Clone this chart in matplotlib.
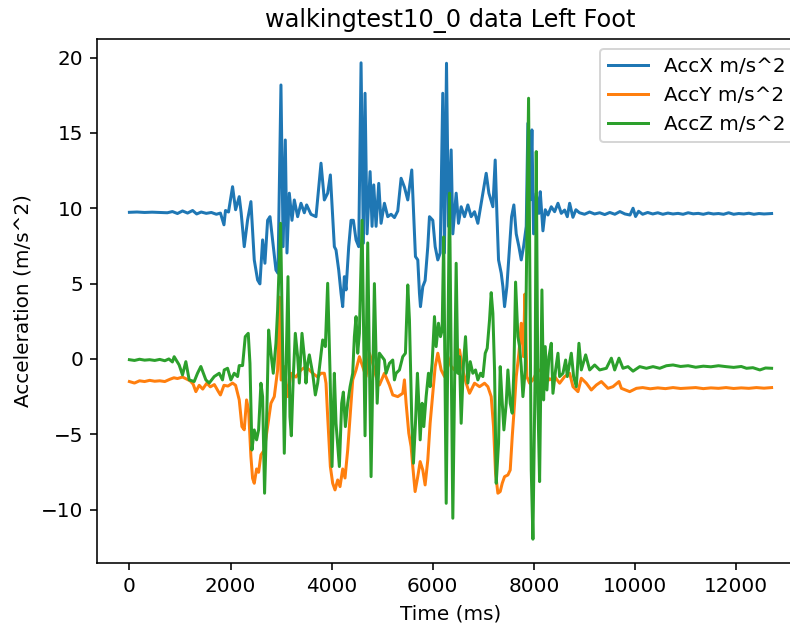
import matplotlib
matplotlib.use("Agg")
import matplotlib.pyplot as plt

# AccX (blue)
tx = [0, 150, 300, 450, 600, 750, 850, 950, 1050, 1150, 1250, 1330, 1420, 1520, 1620, 1720, 1800, 1870, 1900, 1960,
      2040, 2100, 2172, 2210, 2271, 2337, 2403, 2469, 2535, 2581, 2634, 2680, 2733, 2780, 2832, 2898, 2938, 2997,
      3040, 3083, 3116, 3162, 3215, 3261, 3327, 3393, 3459, 3505, 3590, 3690, 3789, 3855, 3921, 3974, 4020, 4053,
      4086, 4139, 4185, 4218, 4251, 4284, 4337, 4383, 4429, 4482, 4535, 4581, 4627, 4660, 4700, 4760, 4799, 4832,
      4878, 4931, 4977, 5043, 5109, 5175, 5241, 5307, 5373, 5439, 5505, 5584, 5624, 5657, 5703, 5736, 5756, 5802,
      5848, 5901, 5934, 6000, 6047, 6099, 6146, 6197, 6230, 6271, 6310, 6363, 6396, 6462, 6508, 6561, 6627, 6693,
      6759, 6825, 6891, 6957, 7056, 7109, 7188, 7234, 7267, 7300, 7353, 7386, 7419, 7465, 7518, 7558, 7603, 7650,
      7703, 7749, 7795, 7848, 7880, 7927, 7960, 7993, 8046, 8099, 8125, 8178, 8224, 8277, 8343, 8409, 8475, 8541,
      8607, 8660, 8706, 8771, 8830, 8900, 9000, 9100, 9200, 9300, 9400, 9500, 9600, 9700, 9800, 9900, 9960, 10010,
      10070, 10150, 10250, 10350, 10450, 10550, 10650, 10750, 10850, 10950, 11050, 11150, 11250, 11350, 11450,
      11550, 11650, 11750, 11850, 11950, 12050, 12150, 12250, 12350, 12450, 12550, 12700]
acc_x = [9.73, 9.75, 9.72, 9.74, 9.72, 9.70, 9.78, 9.65, 9.82, 9.68, 9.85, 9.62, 9.75, 9.66, 9.72, 9.60, 9.68, 8.9, 9.85, 9.75,
         11.43, 9.9, 10.77, 9.7, 7.45, 9.22, 10.44, 6.57, 5.24, 4.98, 7.9, 6.35, 9.2, 9.44, 7.9, 5.9, 5.69, 18.18,
         7.45, 14.53, 7.03, 11.0, 9.2, 10.55, 9.44, 10.33, 9.7, 10.22, 9.6, 9.44, 12.99, 10.55, 11.0, 12.21, 9.44, 7.45,
         7.23, 5.9, 4.36, 3.47, 5.46, 4.58, 7.45, 9.2, 9.2, 7.9, 7.45, 19.65, 7.68, 17.63, 8.3, 12.43, 8.8, 11.55,
         8.8, 11.65, 9.0, 10.33, 9.44, 9.6, 9.38, 9.82, 11.99, 11.4, 10.55, 12.54, 9.44, 6.79, 6.57, 4.36, 3.47, 4.8,
         5.2, 7.45, 9.44, 9.2, 7.45, 6.57, 7.03, 17.63, 7.03, 19.62, 8.8, 13.87, 8.3, 11.0, 9.0, 10.1, 9.44, 10.22,
         9.44, 9.77, 9.0, 10.33, 12.32, 11.0, 10.1, 13.2, 9.66, 6.57, 5.69, 4.8, 3.47, 4.8, 7.45, 9.44, 10.22, 8.3,
         7.45, 6.57, 7.45, 8.8, 15.64, 10.55, 15.2, 8.3, 11.0, 9.66, 11.1, 8.5, 9.9, 9.55, 10.1, 9.77, 10.33, 9.66,
         9.88, 9.44, 10.33, 9.4, 9.9, 9.7, 9.6, 9.75, 9.62, 9.7, 9.58, 9.72, 9.6, 9.78, 9.62, 9.55, 10.0, 9.45,
         9.8, 9.6, 9.72, 9.62, 9.7, 9.6, 9.68, 9.62, 9.66, 9.6, 9.7, 9.63, 9.66, 9.6, 9.68,
         9.62, 9.65, 9.6, 9.7, 9.6, 9.65, 9.62, 9.67, 9.6, 9.65, 9.62, 9.65]

# AccY (orange)
ty = [0, 100, 200, 300, 400, 500, 600, 700, 800, 880, 950, 1050, 1120, 1200, 1260, 1314, 1380, 1450, 1530, 1600,
      1680, 1760, 1800, 1870, 1950, 2040, 2100, 2172, 2225, 2271, 2317, 2357, 2403, 2436, 2469, 2515, 2555, 2601,
      2667, 2733, 2799, 2865, 2931, 2970, 3000, 3063, 3130, 3195, 3294, 3393, 3492, 3624, 3723, 3789, 3855, 3888,
      3921, 3974, 4020, 4066, 4119, 4165, 4218, 4264, 4317, 4383, 4416, 4482, 4548, 4614, 4680, 4746, 4812, 4878,
      4944, 5043, 5142, 5208, 5307, 5406, 5439, 5472, 5525, 5571, 5604, 5650, 5703, 5750, 5802, 5848, 5901, 5947,
      6000, 6047, 6099, 6165, 6231, 6297, 6363, 6429, 6528, 6594, 6660, 6726, 6825, 6924, 7023, 7089, 7155, 7201,
      7241, 7287, 7333, 7373, 7419, 7485, 7531, 7571, 7617, 7650, 7703, 7749, 7795, 7820, 7860, 7914, 7980, 8046,
      8112, 8211, 8310, 8409, 8508, 8607, 8706, 8772, 8871, 8937, 9036, 9135, 9234, 9333, 9464, 9563, 9682, 9729,
      9894, 10027, 10150, 10300, 10450, 10600, 10750, 10900, 11050, 11200, 11350, 11500, 11650, 11800, 11950,
      12100, 12250, 12400, 12550, 12700]
acc_y = [-1.5, -1.6, -1.45, -1.5, -1.42, -1.48, -1.45, -1.5, -1.35, -1.25, -1.3, -1.2, -1.32, -1.45, -1.67, -2.17, -1.75, -2.0, -1.61, -1.85,
         -1.7, -2.17, -2.39, -1.75, -1.8, -1.6, -1.75, -2.72, -4.49, -4.7, -2.72, -3.38, -6.48, -7.92, -8.25, -7.3, -7.52, -6.37,
         -6.04, -4.49, -2.94, -2.5, -0.73, 4.1, -1.4, -0.51, -2.5, -0.95, -1.2, -0.73, -0.51, -0.95, -1.2, -0.95, -0.95, -1.61,
         -3.83, -7.14, -8.25, -8.69, -8.03, -8.47, -7.3, -7.9, -6.04, -2.94, -1.39, -0.73, 0.15, -0.51, -1.17, 0.38, -0.3, -1.17,
         -1.73, -0.95, -1.73, -2.39, -2.5, -2.28, -1.39, -2.94, -4.93, -5.82, -7.14, -8.8, -7.8, -6.81, -7.37, -8.36, -6.7, -4.27,
         -2.28, -0.51, 0.38, -0.73, -1.17, 0.15, -0.51, -0.73, 0.6, -0.73, -1.61, -2.28, -1.61, -1.84, -1.61, -1.84, -2.5, -4.49,
         -7.59, -8.91, -8.8, -8.25, -7.81, -7.7, -7.37, -5.15, -2.94, -1.17, 0.38, 2.37, 0.15, 4.3, -1.17, -1.61, -1.39, -0.95,
         -0.73, -0.95, -1.39, -1.17, -1.61, -1.17, -0.95, -1.84, -2.17, -1.28, -1.61, -2.06, -1.73, -1.5, -1.95, -1.84, -1.5, -1.95,
         -2.17, -1.95, -1.9, -1.98, -1.92, -1.97, -1.9, -1.96, -1.93, -1.9, -1.97, -1.92, -1.95, -1.9, -1.96,
         -1.92, -1.95, -1.9, -1.94, -1.9]

# AccZ (green)
tz = [0, 100, 200, 300, 400, 500, 600, 700, 780, 850, 885, 984, 1050, 1116, 1182, 1281, 1347, 1413, 1512, 1578,
      1677, 1776, 1841, 1875, 1941, 2007, 2073, 2139, 2172, 2238, 2291, 2350, 2384, 2423, 2469, 2515, 2555, 2601,
      2634, 2673, 2720, 2753, 2799, 2845, 2898, 2931, 2990, 3063, 3136, 3175, 3202, 3241, 3281, 3327, 3360, 3413,
      3459, 3492, 3525, 3558, 3624, 3677, 3723, 3776, 3822, 3875, 3921, 3968, 4007, 4053, 4086, 4152, 4198, 4231,
      4271, 4317, 4364, 4416, 4449, 4482, 4515, 4548, 4601, 4660, 4713, 4779, 4845, 4900, 4944, 5043, 5076, 5142,
      5208, 5241, 5274, 5340, 5406, 5459, 5505, 5538, 5584, 5617, 5657, 5696, 5723, 5750, 5789, 5822, 5868, 5914,
      5947, 5987, 6033, 6066, 6112, 6152, 6185, 6215, 6265, 6330, 6396, 6462, 6495, 6528, 6561, 6607, 6647, 6693,
      6740, 6792, 6845, 6891, 6944, 6990, 7037, 7076, 7122, 7155, 7188, 7221, 7254, 7300, 7333, 7366, 7406, 7452,
      7485, 7531, 7571, 7604, 7637, 7683, 7716, 7749, 7782, 7828, 7894, 7947, 7980, 8026, 8046, 8079, 8112, 8158,
      8191, 8224, 8257, 8297, 8343, 8376, 8429, 8475, 8508, 8574, 8627, 8660, 8739, 8785, 8838, 8890, 8937, 9023,
      9102, 9201, 9300, 9432, 9531, 9597, 9682, 9761, 9860, 9960, 10092, 10224, 10355, 10488, 10620, 10751, 10900,
      11050, 11200, 11350, 11500, 11650, 11800, 11950, 12100, 12204, 12330, 12468, 12580, 12700]
acc_z = [-0.05, -0.1, -0.02, -0.08, -0.05, -0.1, -0.03, -0.12, 0.0, -0.2, 0.15, -0.4, -1.06, -0.18, -1.39, -1.5, -0.95, -0.5, -1.39, -1.6,
         -1.17, -0.95, -1.39, -0.73, -0.62, -1.39, -0.95, -1.17, -0.44, -0.44, 1.48, 1.7, -0.29, -6.04, -4.71, -5.37, -4.71, -1.61,
         -2.5, -8.91, -3.16, 1.92, 0.38, -0.95, 1.04, 3.25, 9.0, -6.26, 5.46, -3.83, -5.1, -1.17, 1.7, 0.15, -1.6, 1.7,
         0.15, -1.6, -0.29, 0.27, -0.95, -2.39, -1.6, -0.07, 1.26, 0.82, 5.02, -0.95, -7.14, -0.95, -4.27, -7.14, -2.94, -2.2,
         -4.49, -2.94, -1.84, -0.95, 1.48, 2.81, 0.38, 1.7, 9.2, -5.1, 7.7, -7.81, 5.0, -2.94, 0.38, -0.07, -0.95, -0.29,
         -0.07, -1.39, -0.95, -0.73, 0.15, 0.38, 4.91, 2.59, -4.05, -6.92, -4.27, -0.95, -2.94, -5.37, -2.94, -4.49, -2.5, -0.95,
         -1.84, -0.29, 2.81, 0.82, 2.37, 1.48, 1.92, 8.1, -9.58, 11.0, -10.57, 6.35, -0.95, 0.15, -4.27, -0.29, 1.48, -1.6,
         -0.18, -0.95, -0.73, -1.39, -0.95, -1.17, 0.38, 0.71, 2.59, 4.4, 3.03, -0.73, -8.25, -5.6, -0.51, -2.5, -4.71, -2.94,
         -0.73, -2.94, -3.6, -0.73, 5.1, 1.48, 0.82, -0.51, -2.5, -0.73, 17.3, -7.37, -11.96, -0.29, 13.76, -2.94, -8.14, 4.58,
         -2.72, 0.82, -2.06, 0.15, 1.04, -2.28, -0.73, 0.38, -1.17, -0.95, -0.07, -1.17, 0.38, -1.17, -1.84, 1.04, -0.73, 0.27,
         -0.73, -0.4, -0.73, -0.62, 0.05, -0.73, 0.05, -0.62, -0.51, -0.81, -0.51, -0.62, -0.51, -0.62, -0.45, -0.4, -0.5,
         -0.45, -0.55, -0.48, -0.52, -0.45, -0.51, -0.56, -0.5, -0.62, -0.58, -0.73, -0.6, -0.62]

dpi = 144
fig = plt.figure(figsize=(790 / dpi, 625 / dpi), dpi=dpi)
ax = fig.add_axes([97.3 / 790, 62 / 625, (803.7 - 97.3) / 790, 524 / 625])
ax.plot(tx, acc_x, label="AccX m/s^2")
ax.plot(ty, acc_y, label="AccY m/s^2")
ax.plot(tz, acc_z, label="AccZ m/s^2")
ax.set_title("walkingtest10_0 data Left Foot")
ax.set_xlabel("Time (ms)")
ax.set_ylabel("Acceleration (m/s^2)")
ax.legend(loc="upper right")
fig.savefig("out.png", dpi=dpi)
